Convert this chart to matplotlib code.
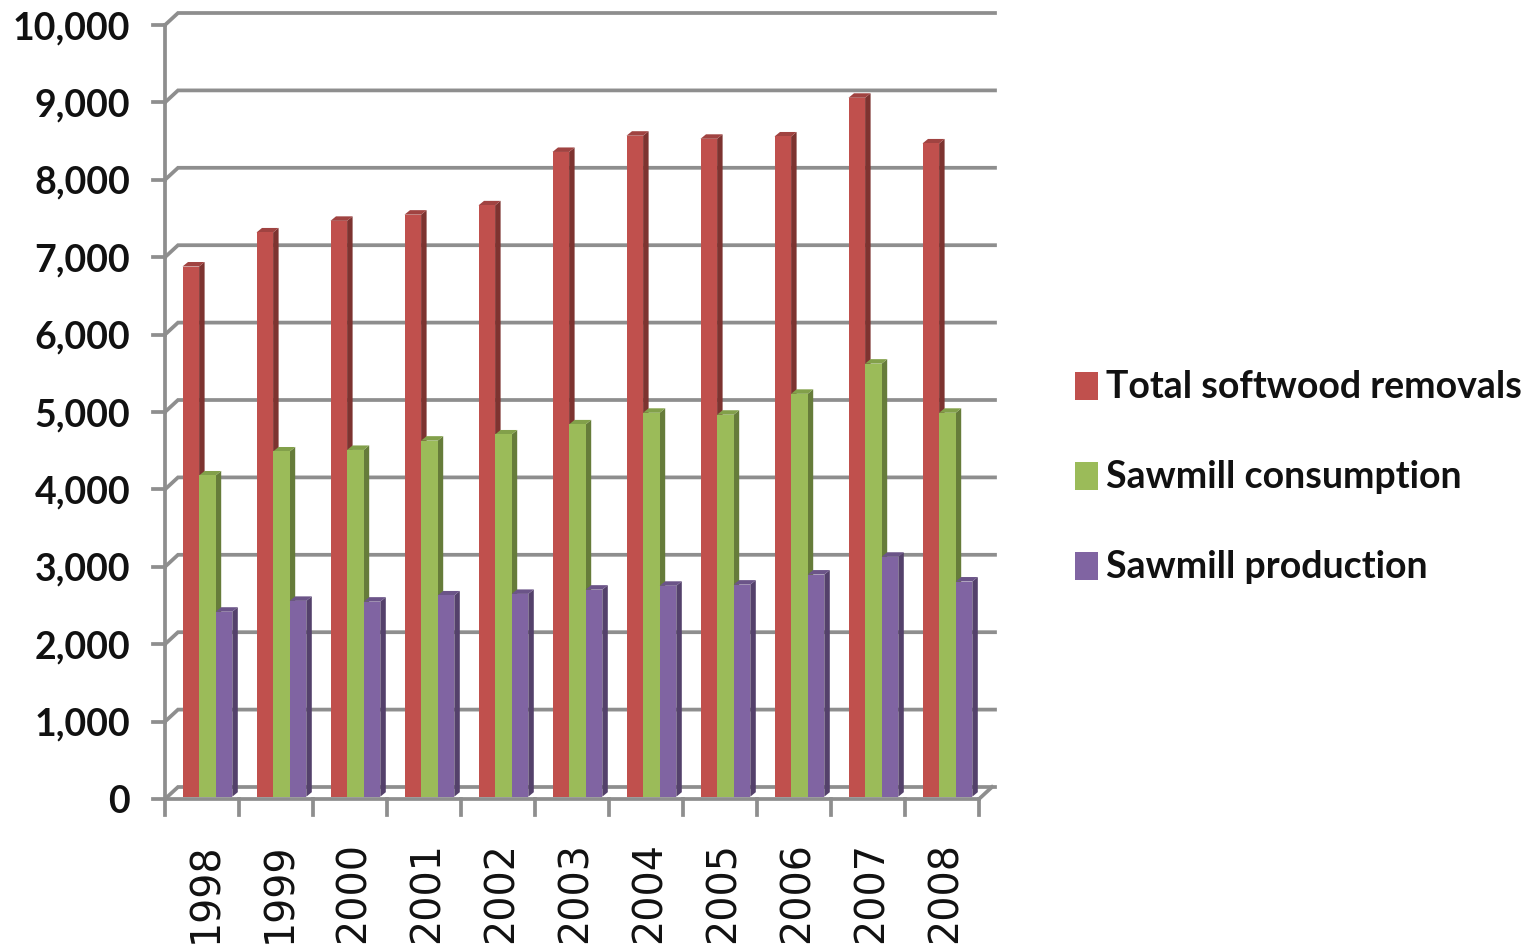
import matplotlib
matplotlib.use("Agg")
import matplotlib.pyplot as plt
from matplotlib.patches import Polygon, Rectangle

years = ["1998", "1999", "2000", "2001", "2002", "2003", "2004", "2005", "2006", "2007", "2008"]
total_removals = [6850, 7290, 7440, 7520, 7640, 8330, 8540, 8500, 8530, 9030, 8440]
sawmill_consumption = [4150, 4460, 4480, 4600, 4680, 4810, 4960, 4935, 5205, 5595, 4960]
sawmill_production = [2390, 2530, 2520, 2600, 2620, 2675, 2725, 2740, 2870, 3100, 2780]
series_names = ["Total softwood removals", "Sawmill consumption", "Sawmill production"]
yticks = list(range(0, 10001, 1000))

W, H = 1534, 948
L, R, B, T = 165, 979, 799, 25
GRID = "#8e8e8e"
colors = ["#c0504d", "#9bbb59", "#8064a2"]
side = ["#7d3330", "#667c3a", "#54416b"]
cap = ["#a04341", "#82a04a", "#6b5488"]
FONT = "Lato"

fig = plt.figure(figsize=(W / 100, H / 100), dpi=100, facecolor="white")
ax = fig.add_axes([L / W, 1 - B / H, (R - L) / W, (B - T) / H])
n = len(years)
ax.set_xlim(-0.5, n - 0.5)
ax.set_ylim(0, 10000)
ax.patch.set_visible(False)
for s in ax.spines.values():
    s.set_visible(False)

px = (n / (R - L))          # category units per pixel
py = 10000 / (B - T)        # value units per pixel
wall_dx, wall_dy = 13 * px, 12 * py
lw = 2.7

# back wall gridlines, with the short depth connectors to the front axis
for v in yticks:
    ax.plot([-0.5, -0.5 + wall_dx, n - 0.5 + 16 * px], [v, v + wall_dy, v + wall_dy],
            color=GRID, lw=lw, solid_joinstyle="miter", clip_on=False, zorder=1)
    ax.plot([-0.5 - 12 * px, -0.5], [v, v], color=GRID, lw=lw, clip_on=False, zorder=1)
# front axes
ax.plot([-0.5, -0.5], [0, 10000], color=GRID, lw=lw, clip_on=False, zorder=2)
ax.plot([-0.5, n - 0.5], [0, 0], color=GRID, lw=lw, clip_on=False, zorder=2)
ax.plot([n - 0.5, n - 0.5 + 13 * px], [0, wall_dy], color=GRID, lw=lw, clip_on=False, zorder=2)
for i in range(n + 1):
    ax.plot([i - 0.5, i - 0.5], [0, -16 * py], color=GRID, lw=lw, clip_on=False, zorder=2)

# bars: front face through ax.bar, with side and top faces for the 3D look
bw = 16.6 * px
first = 17.5 * px
base = 2.3 * py
ddx, ddy = 5.5 * px, 4.5 * py
all_series = [total_removals, sawmill_consumption, sawmill_production]
for j, vals in enumerate(all_series):
    for i, v in enumerate(vals):
        x0 = i - 0.5 + first + j * bw
        top = v + base
        z = 3 + j * 3
        ax.bar(x0, v, width=bw, bottom=base, align="edge", color=colors[j], lw=0, zorder=z + 2)
        ax.add_patch(Polygon([(x0 + bw, base), (x0 + bw + ddx, base + ddy), (x0 + bw + ddx, top + ddy), (x0 + bw, top)],
                             closed=True, fc=side[j], lw=0, zorder=z + 1))
        ax.add_patch(Polygon([(x0, top), (x0 + ddx, top + ddy), (x0 + bw + ddx, top + ddy), (x0 + bw, top)],
                             closed=True, fc=cap[j], lw=0, zorder=z + 1))

# tick labels
ax.set_xticks([i + 4 * px for i in range(n)])
ax.set_xticklabels(years, rotation=90, family="DejaVu Sans", fontsize=28.5, color="#111111", va="top", ha="center")
ax.set_yticks(yticks)
ax.set_yticklabels([f"{v:,}" for v in yticks], family=FONT, fontsize=27, fontweight="bold", color="#111111")
ax.tick_params(axis="both", length=0)
ax.tick_params(axis="x", pad=31)
ax.tick_params(axis="y", pad=25)

# legend, placed in figure pixel terms
for k, name in enumerate(series_names):
    yc = 386 + k * 90
    fig.add_artist(Rectangle((1075 / W, 1 - (yc + 14) / H), 23 / W, 28 / H, transform=fig.transFigure,
                             fc=colors[k], lw=0))
    fig.text(1106 / W, 1 - (yc + 1) / H, name, family=FONT, fontsize=27, fontweight="bold", color="#111111",
             va="center", ha="left")

fig.savefig("out.png", dpi=100, facecolor="white")
